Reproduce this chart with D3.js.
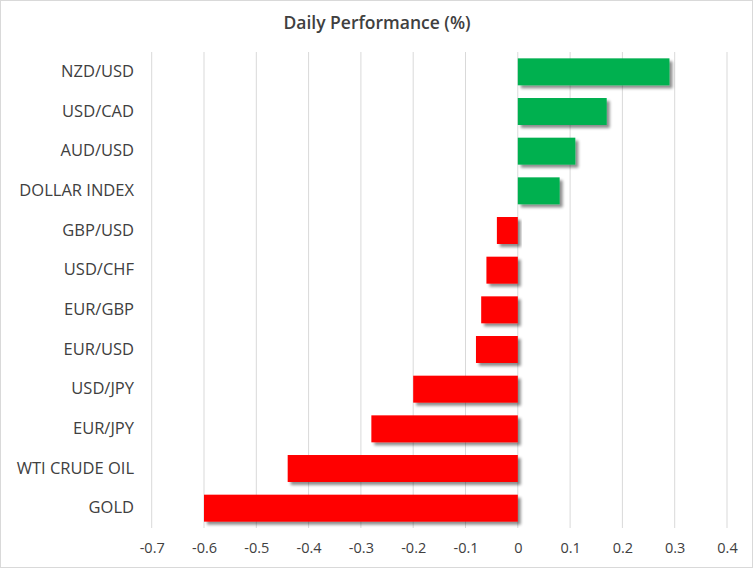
<!DOCTYPE html>
<html>
<head>
<meta charset="utf-8">
<script src="https://cdn.jsdelivr.net/npm/d3@7"></script>
<style>
  body { margin: 0; background: #fff; }
  svg { display: block; font-family: "Open Sans", "Noto Sans", sans-serif; }
</style>
</head>
<body>
<script>
var categories = ["NZD/USD", "USD/CAD", "AUD/USD", "DOLLAR INDEX", "GBP/USD", "USD/CHF",
                  "EUR/GBP", "EUR/USD", "USD/JPY", "EUR/JPY", "WTI CRUDE OIL", "GOLD"];
var values = [0.29, 0.17, 0.11, 0.08, -0.04, -0.06, -0.07, -0.08, -0.20, -0.28, -0.44, -0.60];
var tickValues = [-0.7, -0.6, -0.5, -0.4, -0.3, -0.2, -0.1, 0, 0.1, 0.2, 0.3, 0.4];

var W = 753, H = 568;
var svg = d3.select("body").append("svg").attr("width", W).attr("height", H);

// drop shadow like the office chart
var defs = svg.append("defs");
var f = defs.append("filter").attr("id", "shadow")
  .attr("x", "-10%").attr("y", "-20%").attr("width", "130%").attr("height", "160%");
f.append("feGaussianBlur").attr("in", "SourceAlpha").attr("stdDeviation", 1.5).attr("result", "blur");
f.append("feOffset").attr("dx", 3).attr("dy", 3).attr("result", "off");
f.append("feComponentTransfer").append("feFuncA").attr("type", "linear").attr("slope", 0.45);
var m = f.append("feMerge");
m.append("feMergeNode");
m.append("feMergeNode").attr("in", "SourceGraphic");

svg.append("rect").attr("x", 0.5).attr("y", 0.5).attr("width", W - 1).attr("height", H - 1)
  .attr("fill", "#fff").attr("stroke", "#d9d9d9");

svg.append("text").attr("x", 377).attr("y", 29).attr("text-anchor", "middle")
  .attr("font-size", 17.5).attr("font-weight", 600).attr("fill", "#404040")
  .text("Daily Performance (%)");

var x = d3.scaleLinear().domain([-0.7, 0.4]).range([151.7, 727]);
var y = d3.scaleBand().domain(categories).range([52, 528]).paddingInner(0.32).paddingOuter(0.16);

// gridlines
svg.append("g").selectAll("line").data(tickValues).enter().append("line")
  .attr("x1", function(d) { return x(d); })
  .attr("x2", function(d) { return x(d); })
  .attr("y1", 52).attr("y2", 528)
  .attr("stroke", "#d9d9d9").attr("stroke-width", 1);

// bars
svg.append("g").selectAll("rect").data(values).enter().append("rect")
  .attr("x", function(d) { return x(Math.min(0, d)); })
  .attr("y", function(d, i) { return y(categories[i]); })
  .attr("width", function(d) { return Math.abs(x(d) - x(0)); })
  .attr("height", y.bandwidth())
  .attr("fill", function(d) { return d >= 0 ? "#00b050" : "#ff0000"; })
  .attr("filter", "url(#shadow)");

// category labels
var yAxis = svg.append("g").attr("transform", "translate(142,0)")
  .call(d3.axisLeft(y).tickSize(0).tickPadding(8));
yAxis.select(".domain").remove();
yAxis.selectAll("text").attr("font-size", 16.5).attr("fill", "#404040")
  .attr("font-family", "'Open Sans', sans-serif");

// value ticks
var xAxis = svg.append("g").attr("transform", "translate(0,539)")
  .call(d3.axisBottom(x).tickValues(tickValues).tickSize(0).tickPadding(4)
    .tickFormat(function(d) { return d === 0 ? "0" : (+d.toFixed(1)).toString(); }));
xAxis.select(".domain").remove();
xAxis.selectAll("text").attr("font-size", 14.5).attr("fill", "#404040")
  .attr("font-family", "'Open Sans', sans-serif");
</script>
</body>
</html>
